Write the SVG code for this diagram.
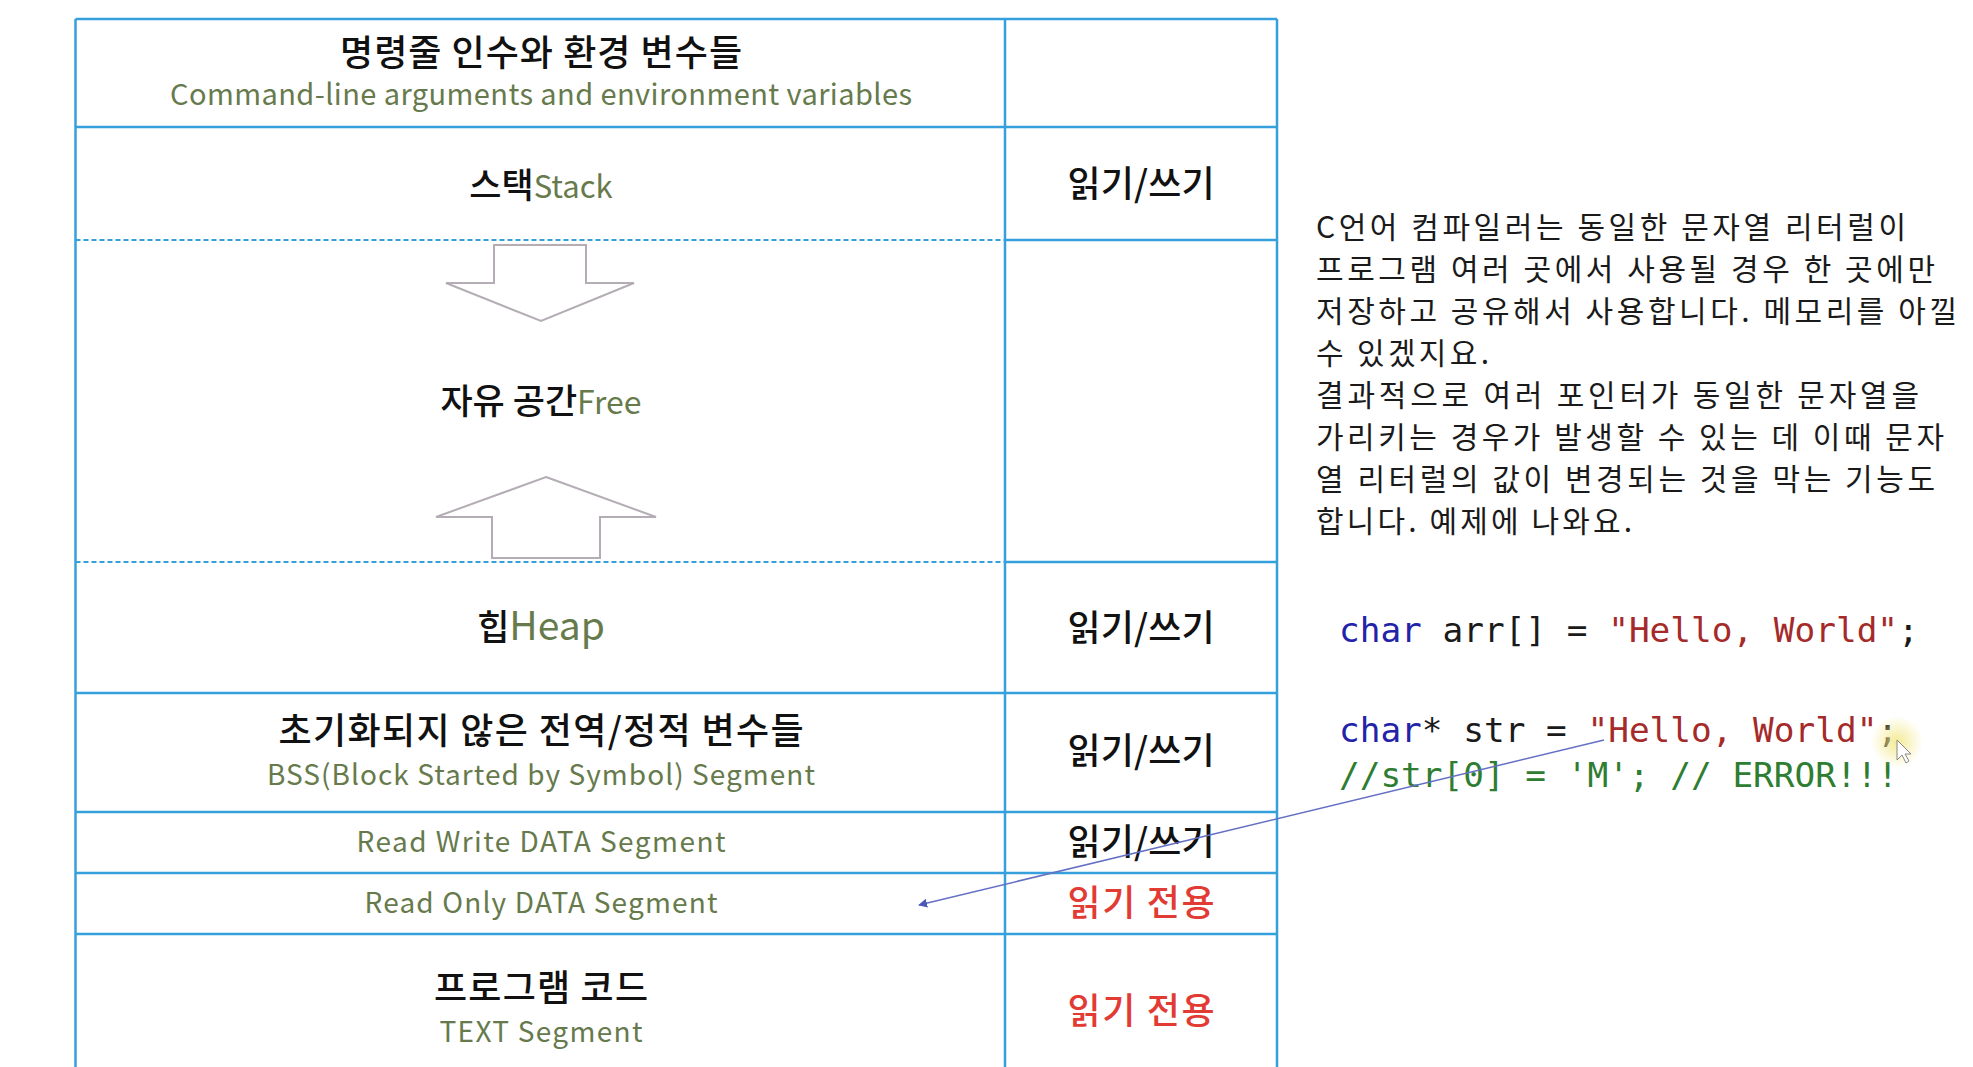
<svg xmlns="http://www.w3.org/2000/svg" width="1973" height="1067" viewBox="0 0 1973 1067">
<style>
.ln{stroke:#35a0db;stroke-width:2.5;fill:none}
.dl{stroke:#35a0db;stroke-width:2;fill:none;stroke-dasharray:5 3}
.ko{font-family:"Noto Sans CJK KR","Noto Sans",sans-serif;fill:#111;font-weight:500}
.en{font-family:"Noto Sans CJK KR","Noto Sans",sans-serif;fill:#667a4c}
.red{fill:#e23b34}
.para{font-family:"Noto Sans CJK KR","Noto Sans",sans-serif;fill:#1a1a1a;font-size:30px}
.code{font-family:"DejaVu Sans Mono","Liberation Mono",monospace;font-size:34.4px}
.kw{fill:#2323a8}.id{fill:#1a1a1a}.str{fill:#a52a2a}.cm{fill:#2e7d32}
.arr{fill:#fff;stroke:#b5adb5;stroke-width:2}
</style>
<defs>
<marker id="ah" viewBox="0 0 10 10" refX="9" refY="5" markerWidth="6" markerHeight="6" orient="auto-start-reverse">
<path d="M0,0 L10,5 L0,10 z" fill="#4a58b8"/>
</marker>
<radialGradient id="glow"><stop offset="0" stop-color="#f3e98a" stop-opacity="0.9"/><stop offset="1" stop-color="#f3e98a" stop-opacity="0"/></radialGradient>
</defs>
<rect width="1973" height="1067" fill="#fff"/>

<g id="table-grid">
<line class="ln" x1="75.5" y1="19" x2="1277" y2="19"/>
<line class="ln" x1="75.5" y1="127" x2="1277" y2="127"/>
<line class="dl" x1="75.5" y1="240" x2="1005" y2="240"/>
<line class="ln" x1="1005" y1="240" x2="1277" y2="240"/>
<line class="dl" x1="75.5" y1="562" x2="1005" y2="562"/>
<line class="ln" x1="1005" y1="562" x2="1277" y2="562"/>
<line class="ln" x1="75.5" y1="693" x2="1277" y2="693"/>
<line class="ln" x1="75.5" y1="812" x2="1277" y2="812"/>
<line class="ln" x1="75.5" y1="873" x2="1277" y2="873"/>
<line class="ln" x1="75.5" y1="934" x2="1277" y2="934"/>
<line class="ln" x1="75.5" y1="19" x2="75.5" y2="1067"/>
<line class="ln" x1="1005" y1="19" x2="1005" y2="1067"/>
<line class="ln" x1="1277" y1="19" x2="1277" y2="1067"/>
</g>

<g id="args">
<text class="ko" x="541" y="66" font-size="36" text-anchor="middle" textLength="402">명령줄 인수와 환경 변수들</text>
<text class="en" x="541" y="105" font-size="29" text-anchor="middle" textLength="742">Command-line arguments and environment variables</text>
</g>

<g id="stack">
<text x="541" y="198" text-anchor="middle"><tspan class="ko" font-size="35">스택</tspan><tspan class="en" font-size="31">Stack</tspan></text>
<text class="ko" x="1141" y="197" font-size="36" text-anchor="middle" textLength="147">읽기/쓰기</text>
</g>

<g id="free">
<polygon class="arr" points="494,245 586,245 586,283 634,283 541,321 446,283 494,283"/>
<text x="541" y="414" text-anchor="middle"><tspan class="ko" font-size="35">자유 공간</tspan><tspan class="en" font-size="32">Free</tspan></text>
<polygon class="arr" points="546,477 656,517 600,517 600,558 492,558 492,517 436,517"/>
</g>

<g id="heap">
<text x="541" y="640" text-anchor="middle"><tspan class="ko" font-size="35">힙</tspan><tspan class="en" font-size="39">Heap</tspan></text>
<text class="ko" x="1141" y="641" font-size="36" text-anchor="middle" textLength="147">읽기/쓰기</text>
</g>

<g id="bss">
<text class="ko" x="541" y="744" font-size="36" text-anchor="middle" textLength="525">초기화되지 않은 전역/정적 변수들</text>
<text class="en" x="541" y="785" font-size="28" text-anchor="middle" textLength="548">BSS(Block Started by Symbol) Segment</text>
<text class="ko" x="1141" y="764" font-size="36" text-anchor="middle" textLength="147">읽기/쓰기</text>
</g>

<g id="rw-data">
<text class="en" x="541" y="852" font-size="28" text-anchor="middle" textLength="369">Read Write DATA Segment</text>
<text class="ko" x="1141" y="855" font-size="36" text-anchor="middle" textLength="147">읽기/쓰기</text>
</g>

<g id="ro-data">
<text class="en" x="541" y="913" font-size="28" text-anchor="middle" textLength="353">Read Only DATA Segment</text>
<text class="ko red" x="1141" y="916" font-size="36" text-anchor="middle" textLength="147">읽기 전용</text>
</g>

<g id="text-seg">
<text class="ko" x="541" y="1001" font-size="36" text-anchor="middle" textLength="214">프로그램 코드</text>
<text class="en" x="541" y="1042" font-size="28" text-anchor="middle" textLength="203">TEXT Segment</text>
<text class="ko red" x="1141" y="1024" font-size="36" text-anchor="middle" textLength="147">읽기 전용</text>
</g>

<g id="note">
<text class="para" x="1316" y="238" textLength="590">C언어 컴파일러는 동일한 문자열 리터럴이</text>
<text class="para" x="1316" y="280" textLength="619">프로그램 여러 곳에서 사용될 경우 한 곳에만</text>
<text class="para" x="1316" y="322" textLength="641">저장하고 공유해서 사용합니다. 메모리를 아낄</text>
<text class="para" x="1316" y="364" textLength="173">수 있겠지요.</text>
<text class="para" x="1316" y="406" textLength="603">결과적으로 여러 포인터가 동일한 문자열을</text>
<text class="para" x="1316" y="448" textLength="628">가리키는 경우가 발생할 수 있는 데 이때 문자</text>
<text class="para" x="1316" y="490" textLength="619">열 리터럴의 값이 변경되는 것을 막는 기능도</text>
<text class="para" x="1316" y="532" textLength="316">합니다. 예제에 나와요.</text>
</g>

<g id="code">
<text class="code" x="1339" y="642" xml:space="preserve"><tspan class="kw">char</tspan><tspan class="id"> arr[] = </tspan><tspan class="str">"Hello, World"</tspan><tspan class="id">;</tspan></text>
<text class="code" x="1339" y="742" xml:space="preserve"><tspan class="kw">char</tspan><tspan class="id">* str = </tspan><tspan class="str">"Hello, World"</tspan><tspan class="id">;</tspan></text>
<text class="code cm" x="1339" y="787" xml:space="preserve">//str[0] = 'M'; // ERROR!!!</text>
</g>

<g id="connectors">
<line x1="1604" y1="740" x2="919" y2="905" stroke="#6470c4" stroke-width="1.5" marker-end="url(#ah)"/>
</g>

<g id="cursor">
<circle cx="1897" cy="742" r="26" fill="url(#glow)"/>
<polygon points="1897,740 1897,760 1902,755 1906,763 1909,761 1905,754 1911,754" fill="#fff" stroke="#888" stroke-width="1"/>
</g>
</svg>
